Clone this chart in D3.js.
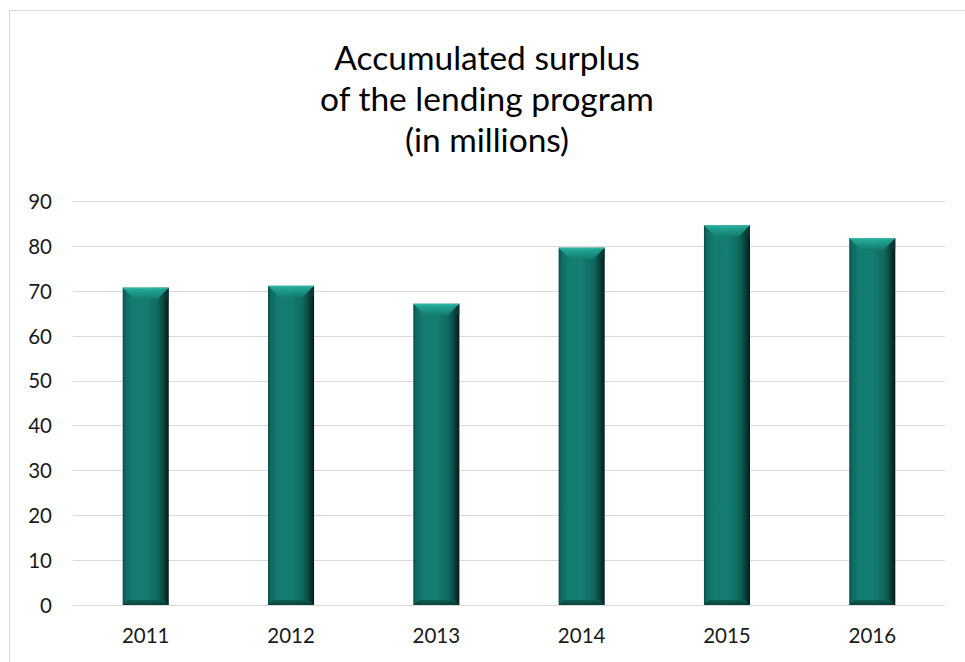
<!DOCTYPE html>
<html>
<head>
<meta charset="utf-8">
<script src="https://cdn.jsdelivr.net/npm/d3@7"></script>
<style>
html,body{margin:0;padding:0;background:#fff;}
svg{display:block;}
</style>
</head>
<body>
<svg id="chart" width="965" height="662"></svg>
<script>
const titleLines = ["Accumulated surplus", "of the lending program", "(in millions)"];
const years = ["2011", "2012", "2013", "2014", "2015", "2016"];
const surplus = [70.7, 71.1, 67.1, 79.6, 84.6, 81.7];
const yTicks = [0, 10, 20, 30, 40, 50, 60, 70, 80, 90];

const svg = d3.select("#chart");
const W = 965, H = 662;
const plot = {left: 73, right: 945, top: 201, bottom: 605};
const font = "Lato, 'Open Sans', sans-serif";

// outer chart border
svg.append("rect").attr("x", 9.5).attr("y", 10.5).attr("width", W + 10).attr("height", H + 10)
  .attr("fill", "#fff").attr("stroke", "#d9d9d9").attr("stroke-width", 1);

const x = d3.scaleBand().domain(years).range([plot.left, plot.right]).paddingInner(0.683).paddingOuter(0.342);
const y = d3.scaleLinear().domain([0, 90]).range([plot.bottom, plot.top]);

// defs
const defs = svg.append("defs");
const body = defs.append("linearGradient").attr("id", "bodyGrad").attr("x1", 0).attr("x2", 1).attr("y1", 0).attr("y2", 0);
[[0, "#0a4d46"], [0.06, "#0f6a60"], [0.2, "#137a6e"], [0.5, "#147d71"], [0.75, "#10695f"], [0.85, "#0c5049"], [0.93, "#083430"], [1, "#041a18"]]
  .forEach(([o, c]) => body.append("stop").attr("offset", o).attr("stop-color", c));
const cap = defs.append("linearGradient").attr("id", "capGrad").attr("x1", 0).attr("x2", 0).attr("y1", 0).attr("y2", 1);
[[0, "#2bb3a2"], [0.5, "#1c9a8a"], [1, "#14806f"]].forEach(([o, c]) => cap.append("stop").attr("offset", o).attr("stop-color", c));
const bot = defs.append("linearGradient").attr("id", "botGrad").attr("x1", 0).attr("x2", 0).attr("y1", 0).attr("y2", 1);
[[0, "#0c5a51"], [1, "#063a34"]].forEach(([o, c]) => bot.append("stop").attr("offset", o).attr("stop-color", c));

// gridlines
svg.append("g").selectAll("line").data(yTicks).join("line")
  .attr("x1", plot.left).attr("x2", plot.right)
  .attr("y1", d => Math.round(y(d)) + 0.5).attr("y2", d => Math.round(y(d)) + 0.5)
  .attr("stroke", "#d9d9d9").attr("stroke-width", 1);

// y axis labels
const yAxis = d3.axisLeft(y).tickValues(yTicks).tickSize(0).tickPadding(0);
const gy = svg.append("g").attr("transform", `translate(${plot.left - 21},0)`).call(yAxis);
gy.select(".domain").remove();
gy.selectAll("text").attr("font-family", font).attr("font-size", 20.5).attr("fill", "#1a1a1a").attr("dy", "0.36em");

// x axis labels
const xAxis = d3.axisBottom(x).tickSize(0).tickPadding(0);
const gx = svg.append("g").attr("transform", `translate(0,${plot.bottom + 22})`).call(xAxis);
gx.select(".domain").remove();
gx.selectAll("text").attr("font-family", font).attr("font-size", 20.5).attr("fill", "#1a1a1a").attr("dy", "0.78em");

// bars
const bars = svg.append("g").selectAll("g").data(years.map((k, i) => ({k, v: surplus[i]}))).join("g");
bars.append("rect")
  .attr("x", d => x(d.k)).attr("y", d => y(d.v))
  .attr("width", x.bandwidth()).attr("height", d => y(0) - y(d.v))
  .attr("fill", "url(#bodyGrad)");
// top bevel
bars.append("path").attr("d", d => {
  const x0 = x(d.k), x1 = x0 + x.bandwidth(), t = y(d.v), h = 11, inset = 11;
  return `M${x0},${t}L${x1},${t}L${x1 - inset},${t + h}L${x0 + inset},${t + h}Z`;
}).attr("fill", "url(#capGrad)").attr("opacity", 0.9);
// right edge on cap
bars.append("path").attr("d", d => {
  const x0 = x(d.k), x1 = x0 + x.bandwidth(), t = y(d.v);
  return `M${x1},${t}L${x1},${t + 11}L${x1 - 6},${t + 11}Z`;
}).attr("fill", "#0a3f39").attr("opacity", 0.7);
// bottom bevel
bars.append("path").attr("d", d => {
  const x0 = x(d.k), x1 = x0 + x.bandwidth(), b = y(0), h = 5, inset = 5;
  return `M${x0 + inset},${b - h}L${x1 - inset},${b - h}L${x1},${b}L${x0},${b}Z`;
}).attr("fill", "url(#botGrad)").attr("opacity", 0.85);
// top highlight line
bars.append("line")
  .attr("x1", d => x(d.k)).attr("x2", d => x(d.k) + x.bandwidth())
  .attr("y1", d => y(d.v) + 0.5).attr("y2", d => y(d.v) + 0.5)
  .attr("stroke", "#3ec2b0").attr("stroke-width", 1).attr("opacity", 0.6);

// title
const title = svg.append("text").attr("text-anchor", "middle").attr("font-family", font)
  .attr("font-size", 33.5).attr("fill", "#000");
titleLines.forEach((t, i) => title.append("tspan").attr("x", 487).attr("y", 70 + i * 41).text(t));
</script>
</body>
</html>
